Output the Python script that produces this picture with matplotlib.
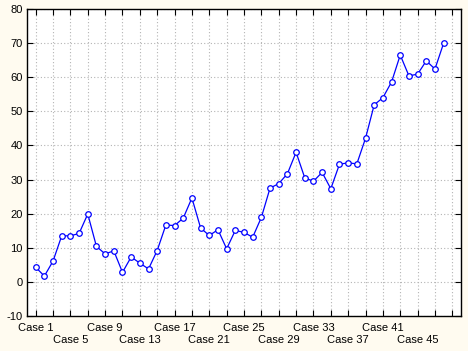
import matplotlib.pyplot as plt

case_numbers = list(range(1, 49))
values = [4.3, 1.7, 6.1, 13.5, 13.5, 14.2, 19.9, 10.4, 8.2, 9.1,
          2.8, 7.3, 5.5, 3.8, 9.2, 16.7, 16.5, 18.7, 24.6, 15.8,
          13.6, 15.3, 9.7, 15.1, 14.5, 13.1, 18.9, 27.5, 28.8, 31.7,
          38.0, 30.5, 29.5, 32.1, 27.3, 34.5, 34.9, 34.6, 42.1, 51.9,
          54.0, 58.6, 66.5, 60.4, 60.9, 64.8, 62.4, 70.0]
row1_cases = [1, 9, 17, 25, 33, 41]
row2_cases = [5, 13, 21, 29, 37, 45]
y_ticks = list(range(-10, 81, 10))

plt.rcParams['font.family'] = ['Liberation Sans', 'DejaVu Sans']

fig = plt.figure(figsize=(4.68, 3.51), dpi=100, facecolor='#FFFBF0')
ax = fig.add_axes([27 / 468, 1 - 316 / 351, 434 / 468, 307 / 351])
ax.set_facecolor('white')

ax.plot(case_numbers, values, color='#0000FF', lw=0.9, marker='o',
        markersize=4, markerfacecolor='white', markeredgecolor='#0000FF',
        markeredgewidth=0.9)

ax.set_xlim(0, 50)
ax.set_ylim(-10, 80)

# every other case gets a tick, labels alternate between two rows
xt = list(range(1, 50, 2))
ax.set_xticks(xt)
ax.set_xticklabels(['Case %d' % t if t in row1_cases else '' for t in xt],
                   fontsize=8)
ax.xaxis.remove_overlapping_locs = False
ax.set_xticks(row2_cases, minor=True)
ax.set_xticklabels(['Case %d' % t for t in row2_cases], minor=True, fontsize=8)
ax.set_yticks(y_ticks)
ax.set_yticklabels([str(v) for v in y_ticks], fontsize=8)

ax.tick_params(direction='in', length=4, width=0.8, top=True, right=True,
               colors='black')
ax.tick_params(axis='x', which='major', pad=5)
ax.tick_params(axis='x', which='minor', length=0, pad=14, top=False)
ax.tick_params(axis='y', pad=3)

ax.grid(True, which='major', color='#B4B4B4', lw=0.8, ls=(0, (1, 2)))
ax.set_axisbelow(True)
for s in ax.spines.values():
    s.set_linewidth(1.0)
    s.set_color('black')

fig.savefig('out.png', dpi=100, facecolor=fig.get_facecolor())
